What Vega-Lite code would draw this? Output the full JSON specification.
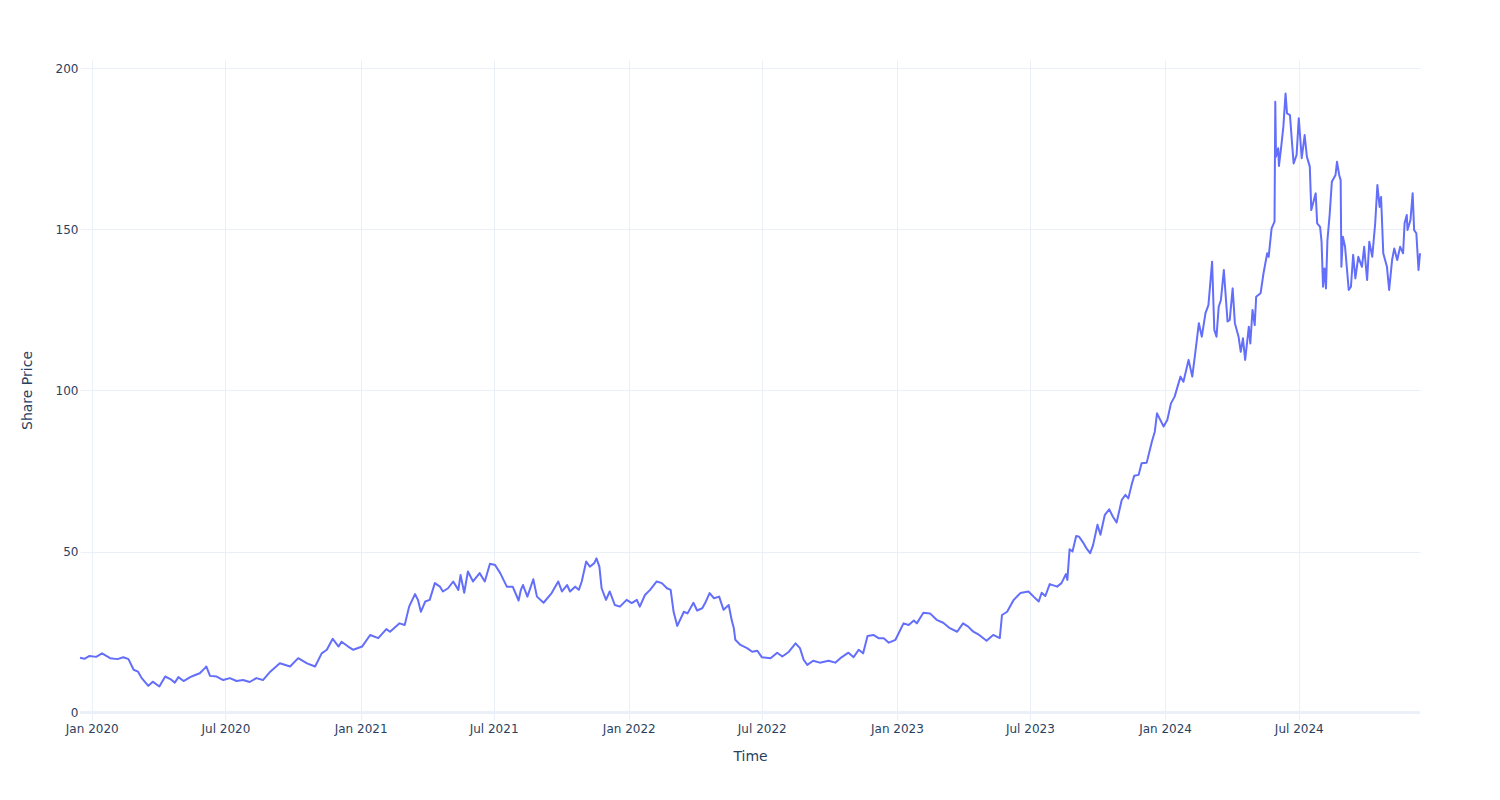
{
  "$schema": "https://vega.github.io/schema/vega-lite/v6.json",
  "width": 1340,
  "height": 660,
  "autosize": {"type": "none"},
  "padding": {"left": 80, "top": 60, "right": 80, "bottom": 80},
  "background": "white",
  "config": {"view": {"stroke": null}, "font": "DejaVu Sans"},
  "data": {"values": [
    {"date": "2019-12-16", "price": 17.0},
    {"date": "2019-12-22", "price": 16.7},
    {"date": "2019-12-29", "price": 17.6},
    {"date": "2020-01-07", "price": 17.3},
    {"date": "2020-01-15", "price": 18.4},
    {"date": "2020-01-26", "price": 16.9},
    {"date": "2020-02-05", "price": 16.6},
    {"date": "2020-02-13", "price": 17.2},
    {"date": "2020-02-20", "price": 16.6},
    {"date": "2020-02-27", "price": 13.3},
    {"date": "2020-03-04", "price": 12.7},
    {"date": "2020-03-09", "price": 10.7},
    {"date": "2020-03-18", "price": 8.3},
    {"date": "2020-03-24", "price": 9.6},
    {"date": "2020-04-02", "price": 8.1},
    {"date": "2020-04-10", "price": 11.2},
    {"date": "2020-04-17", "price": 10.4},
    {"date": "2020-04-23", "price": 9.3},
    {"date": "2020-04-28", "price": 11.0},
    {"date": "2020-05-05", "price": 9.8},
    {"date": "2020-05-14", "price": 11.0},
    {"date": "2020-05-20", "price": 11.6},
    {"date": "2020-05-27", "price": 12.2},
    {"date": "2020-06-03", "price": 13.8},
    {"date": "2020-06-05", "price": 14.3},
    {"date": "2020-06-10", "price": 11.4},
    {"date": "2020-06-19", "price": 11.2},
    {"date": "2020-06-28", "price": 10.1},
    {"date": "2020-07-07", "price": 10.7},
    {"date": "2020-07-16", "price": 9.8},
    {"date": "2020-07-25", "price": 10.1},
    {"date": "2020-08-03", "price": 9.5},
    {"date": "2020-08-12", "price": 10.7},
    {"date": "2020-08-21", "price": 10.1},
    {"date": "2020-08-31", "price": 12.7},
    {"date": "2020-09-13", "price": 15.3},
    {"date": "2020-09-27", "price": 14.3},
    {"date": "2020-10-08", "price": 16.9},
    {"date": "2020-10-20", "price": 15.3},
    {"date": "2020-10-31", "price": 14.3},
    {"date": "2020-11-09", "price": 18.4},
    {"date": "2020-11-16", "price": 19.5},
    {"date": "2020-11-24", "price": 22.9},
    {"date": "2020-12-02", "price": 20.5},
    {"date": "2020-12-06", "price": 22.0},
    {"date": "2020-12-15", "price": 20.5},
    {"date": "2020-12-22", "price": 19.5},
    {"date": "2021-01-03", "price": 20.5},
    {"date": "2021-01-14", "price": 24.1},
    {"date": "2021-01-25", "price": 23.1},
    {"date": "2021-02-05", "price": 25.9},
    {"date": "2021-02-10", "price": 25.1},
    {"date": "2021-02-23", "price": 27.7},
    {"date": "2021-03-02", "price": 27.2},
    {"date": "2021-03-08", "price": 32.9},
    {"date": "2021-03-16", "price": 36.8},
    {"date": "2021-03-20", "price": 35.0},
    {"date": "2021-03-24", "price": 31.3},
    {"date": "2021-03-30", "price": 34.5},
    {"date": "2021-04-05", "price": 35.0},
    {"date": "2021-04-12", "price": 40.2},
    {"date": "2021-04-19", "price": 39.1},
    {"date": "2021-04-23", "price": 37.6},
    {"date": "2021-04-30", "price": 38.6},
    {"date": "2021-05-07", "price": 40.7},
    {"date": "2021-05-14", "price": 38.1},
    {"date": "2021-05-17", "price": 42.7},
    {"date": "2021-05-22", "price": 37.2},
    {"date": "2021-05-27", "price": 43.8},
    {"date": "2021-06-03", "price": 40.7},
    {"date": "2021-06-12", "price": 43.3},
    {"date": "2021-06-19", "price": 40.7},
    {"date": "2021-06-26", "price": 46.2},
    {"date": "2021-07-03", "price": 45.8},
    {"date": "2021-07-10", "price": 43.3},
    {"date": "2021-07-19", "price": 39.1},
    {"date": "2021-07-27", "price": 39.1},
    {"date": "2021-08-04", "price": 34.8},
    {"date": "2021-08-07", "price": 38.0},
    {"date": "2021-08-10", "price": 39.6},
    {"date": "2021-08-16", "price": 36.0},
    {"date": "2021-08-24", "price": 41.4},
    {"date": "2021-08-29", "price": 36.0},
    {"date": "2021-09-07", "price": 34.1},
    {"date": "2021-09-18", "price": 37.1},
    {"date": "2021-09-27", "price": 40.7},
    {"date": "2021-10-02", "price": 37.6},
    {"date": "2021-10-09", "price": 39.6},
    {"date": "2021-10-13", "price": 37.6},
    {"date": "2021-10-20", "price": 39.1},
    {"date": "2021-10-25", "price": 38.1},
    {"date": "2021-10-29", "price": 40.7},
    {"date": "2021-11-04", "price": 46.9},
    {"date": "2021-11-09", "price": 45.3},
    {"date": "2021-11-15", "price": 46.4},
    {"date": "2021-11-18", "price": 47.9},
    {"date": "2021-11-22", "price": 45.3},
    {"date": "2021-11-25", "price": 38.6},
    {"date": "2021-12-01", "price": 35.0},
    {"date": "2021-12-06", "price": 37.6},
    {"date": "2021-12-13", "price": 33.4},
    {"date": "2021-12-20", "price": 32.9},
    {"date": "2021-12-29", "price": 35.0},
    {"date": "2022-01-05", "price": 34.0},
    {"date": "2022-01-12", "price": 35.0},
    {"date": "2022-01-16", "price": 32.9},
    {"date": "2022-01-23", "price": 36.5},
    {"date": "2022-01-30", "price": 38.1},
    {"date": "2022-02-08", "price": 40.7},
    {"date": "2022-02-15", "price": 40.2},
    {"date": "2022-02-22", "price": 38.6},
    {"date": "2022-02-27", "price": 38.1},
    {"date": "2022-03-03", "price": 31.3},
    {"date": "2022-03-08", "price": 26.9},
    {"date": "2022-03-17", "price": 31.3},
    {"date": "2022-03-22", "price": 30.8},
    {"date": "2022-03-30", "price": 34.1},
    {"date": "2022-04-04", "price": 31.7},
    {"date": "2022-04-11", "price": 32.4},
    {"date": "2022-04-16", "price": 34.5},
    {"date": "2022-04-21", "price": 37.1},
    {"date": "2022-04-27", "price": 35.5},
    {"date": "2022-05-04", "price": 36.0},
    {"date": "2022-05-10", "price": 31.9},
    {"date": "2022-05-17", "price": 33.4},
    {"date": "2022-05-21", "price": 28.8},
    {"date": "2022-05-24", "price": 26.2},
    {"date": "2022-05-26", "price": 22.6},
    {"date": "2022-06-02", "price": 21.0},
    {"date": "2022-06-11", "price": 20.0},
    {"date": "2022-06-18", "price": 18.9},
    {"date": "2022-06-25", "price": 19.2},
    {"date": "2022-07-01", "price": 17.2},
    {"date": "2022-07-13", "price": 16.9},
    {"date": "2022-07-22", "price": 18.6},
    {"date": "2022-07-29", "price": 17.4},
    {"date": "2022-08-07", "price": 18.9},
    {"date": "2022-08-16", "price": 21.5},
    {"date": "2022-08-22", "price": 20.0},
    {"date": "2022-08-27", "price": 16.4},
    {"date": "2022-09-01", "price": 14.8},
    {"date": "2022-09-09", "price": 16.1},
    {"date": "2022-09-18", "price": 15.5},
    {"date": "2022-09-30", "price": 16.1},
    {"date": "2022-10-09", "price": 15.5},
    {"date": "2022-10-16", "price": 16.9},
    {"date": "2022-10-27", "price": 18.6},
    {"date": "2022-11-03", "price": 17.2},
    {"date": "2022-11-10", "price": 19.5},
    {"date": "2022-11-16", "price": 18.4},
    {"date": "2022-11-22", "price": 23.8},
    {"date": "2022-11-30", "price": 24.1},
    {"date": "2022-12-07", "price": 23.1},
    {"date": "2022-12-14", "price": 23.1},
    {"date": "2022-12-21", "price": 21.7},
    {"date": "2022-12-30", "price": 22.6},
    {"date": "2023-01-10", "price": 27.7},
    {"date": "2023-01-17", "price": 27.2},
    {"date": "2023-01-24", "price": 28.6},
    {"date": "2023-01-28", "price": 27.7},
    {"date": "2023-02-06", "price": 31.0},
    {"date": "2023-02-15", "price": 30.8},
    {"date": "2023-02-24", "price": 28.8},
    {"date": "2023-03-05", "price": 27.9},
    {"date": "2023-03-14", "price": 26.2},
    {"date": "2023-03-24", "price": 25.1},
    {"date": "2023-04-01", "price": 27.7},
    {"date": "2023-04-08", "price": 26.7},
    {"date": "2023-04-15", "price": 25.1},
    {"date": "2023-04-23", "price": 24.1},
    {"date": "2023-05-03", "price": 22.3},
    {"date": "2023-05-12", "price": 24.1},
    {"date": "2023-05-21", "price": 23.1},
    {"date": "2023-05-24", "price": 30.3},
    {"date": "2023-05-31", "price": 31.3},
    {"date": "2023-06-09", "price": 35.0},
    {"date": "2023-06-18", "price": 37.1},
    {"date": "2023-06-29", "price": 37.6},
    {"date": "2023-07-06", "price": 36.0},
    {"date": "2023-07-13", "price": 34.5},
    {"date": "2023-07-17", "price": 37.2},
    {"date": "2023-07-22", "price": 36.2},
    {"date": "2023-07-28", "price": 39.9},
    {"date": "2023-08-07", "price": 39.1},
    {"date": "2023-08-13", "price": 40.2},
    {"date": "2023-08-19", "price": 43.0},
    {"date": "2023-08-21", "price": 41.2},
    {"date": "2023-08-24", "price": 50.7},
    {"date": "2023-08-28", "price": 50.0},
    {"date": "2023-09-02", "price": 54.8},
    {"date": "2023-09-06", "price": 54.6},
    {"date": "2023-09-12", "price": 52.6},
    {"date": "2023-09-16", "price": 51.0},
    {"date": "2023-09-21", "price": 49.5},
    {"date": "2023-09-25", "price": 52.0},
    {"date": "2023-10-01", "price": 58.3},
    {"date": "2023-10-05", "price": 55.2},
    {"date": "2023-10-11", "price": 61.4},
    {"date": "2023-10-17", "price": 63.1},
    {"date": "2023-10-22", "price": 60.8},
    {"date": "2023-10-27", "price": 59.0},
    {"date": "2023-11-03", "price": 66.0},
    {"date": "2023-11-08", "price": 67.6},
    {"date": "2023-11-12", "price": 66.5},
    {"date": "2023-11-17", "price": 71.2},
    {"date": "2023-11-20", "price": 73.5},
    {"date": "2023-11-26", "price": 73.8},
    {"date": "2023-11-30", "price": 77.4},
    {"date": "2023-12-07", "price": 77.6},
    {"date": "2023-12-14", "price": 84.1},
    {"date": "2023-12-18", "price": 87.2},
    {"date": "2023-12-21", "price": 92.9},
    {"date": "2023-12-30", "price": 88.8},
    {"date": "2024-01-04", "price": 90.8},
    {"date": "2024-01-09", "price": 96.0},
    {"date": "2024-01-14", "price": 98.1},
    {"date": "2024-01-22", "price": 104.3},
    {"date": "2024-01-26", "price": 102.7},
    {"date": "2024-02-02", "price": 109.5},
    {"date": "2024-02-07", "price": 104.3},
    {"date": "2024-02-11", "price": 111.5},
    {"date": "2024-02-16", "price": 120.9},
    {"date": "2024-02-20", "price": 116.7},
    {"date": "2024-02-25", "price": 124.0},
    {"date": "2024-02-29", "price": 126.5},
    {"date": "2024-03-05", "price": 140.0},
    {"date": "2024-03-08", "price": 118.8},
    {"date": "2024-03-11", "price": 116.7},
    {"date": "2024-03-14", "price": 126.0},
    {"date": "2024-03-17", "price": 128.1},
    {"date": "2024-03-21", "price": 137.4},
    {"date": "2024-03-26", "price": 121.4},
    {"date": "2024-03-29", "price": 121.9},
    {"date": "2024-04-02", "price": 131.7},
    {"date": "2024-04-05", "price": 120.9},
    {"date": "2024-04-10", "price": 116.7},
    {"date": "2024-04-13", "price": 112.0},
    {"date": "2024-04-16", "price": 116.2},
    {"date": "2024-04-19", "price": 109.5},
    {"date": "2024-04-24", "price": 119.8},
    {"date": "2024-04-26", "price": 114.6},
    {"date": "2024-04-29", "price": 125.0},
    {"date": "2024-05-02", "price": 120.3},
    {"date": "2024-05-04", "price": 129.1},
    {"date": "2024-05-10", "price": 130.2},
    {"date": "2024-05-14", "price": 136.4},
    {"date": "2024-05-19", "price": 142.6},
    {"date": "2024-05-21", "price": 141.5},
    {"date": "2024-05-25", "price": 150.3},
    {"date": "2024-05-29", "price": 152.4},
    {"date": "2024-05-30", "price": 189.6},
    {"date": "2024-05-31", "price": 172.6},
    {"date": "2024-06-03", "price": 175.2},
    {"date": "2024-06-04", "price": 169.7},
    {"date": "2024-06-07", "price": 175.5},
    {"date": "2024-06-10", "price": 181.9},
    {"date": "2024-06-13", "price": 192.2},
    {"date": "2024-06-15", "price": 186.0},
    {"date": "2024-06-19", "price": 185.5},
    {"date": "2024-06-22", "price": 176.2},
    {"date": "2024-06-24", "price": 170.5},
    {"date": "2024-06-28", "price": 173.1},
    {"date": "2024-07-01", "price": 184.5},
    {"date": "2024-07-05", "price": 172.1},
    {"date": "2024-07-09", "price": 179.3},
    {"date": "2024-07-12", "price": 172.6},
    {"date": "2024-07-16", "price": 169.5},
    {"date": "2024-07-18", "price": 156.0},
    {"date": "2024-07-21", "price": 158.6},
    {"date": "2024-07-24", "price": 161.2},
    {"date": "2024-07-26", "price": 151.9},
    {"date": "2024-07-30", "price": 150.8},
    {"date": "2024-08-01", "price": 146.2},
    {"date": "2024-08-03", "price": 132.2},
    {"date": "2024-08-05", "price": 137.9},
    {"date": "2024-08-07", "price": 131.7},
    {"date": "2024-08-09", "price": 146.7},
    {"date": "2024-08-12", "price": 154.5},
    {"date": "2024-08-15", "price": 164.8},
    {"date": "2024-08-20", "price": 166.9},
    {"date": "2024-08-22", "price": 171.0},
    {"date": "2024-08-25", "price": 166.9},
    {"date": "2024-08-27", "price": 165.3},
    {"date": "2024-08-28", "price": 138.4},
    {"date": "2024-08-30", "price": 147.7},
    {"date": "2024-09-02", "price": 144.6},
    {"date": "2024-09-07", "price": 131.2},
    {"date": "2024-09-10", "price": 132.2},
    {"date": "2024-09-13", "price": 142.1},
    {"date": "2024-09-16", "price": 134.8},
    {"date": "2024-09-20", "price": 141.5},
    {"date": "2024-09-25", "price": 138.4},
    {"date": "2024-09-28", "price": 144.6},
    {"date": "2024-10-02", "price": 134.3},
    {"date": "2024-10-05", "price": 146.2},
    {"date": "2024-10-09", "price": 141.5},
    {"date": "2024-10-13", "price": 151.9},
    {"date": "2024-10-16", "price": 163.8},
    {"date": "2024-10-19", "price": 157.0},
    {"date": "2024-10-21", "price": 160.1},
    {"date": "2024-10-24", "price": 142.6},
    {"date": "2024-10-29", "price": 138.4},
    {"date": "2024-11-01", "price": 131.2},
    {"date": "2024-11-05", "price": 140.5},
    {"date": "2024-11-08", "price": 144.1},
    {"date": "2024-11-12", "price": 140.5},
    {"date": "2024-11-16", "price": 144.6},
    {"date": "2024-11-20", "price": 142.6},
    {"date": "2024-11-22", "price": 151.9},
    {"date": "2024-11-25", "price": 154.5},
    {"date": "2024-11-26", "price": 149.8},
    {"date": "2024-11-30", "price": 152.9},
    {"date": "2024-12-03", "price": 161.2},
    {"date": "2024-12-05", "price": 149.8},
    {"date": "2024-12-08", "price": 148.8},
    {"date": "2024-12-11", "price": 137.4},
    {"date": "2024-12-13", "price": 142.6}
  ]},
  "layer": [
    {
      "mark": {"type": "rule", "stroke": "#EBF0F8", "strokeWidth": 2},
      "encoding": {"y": {"datum": 0, "type": "quantitative"}}
    },
    {
      "mark": {"type": "line", "color": "#636efa", "strokeWidth": 2, "strokeJoin": "round"},
      "encoding": {
        "x": {
          "field": "date",
          "type": "temporal",
          "scale": {"type": "utc", "domain": [{"year": 2019, "month": 12, "date": 16, "utc": true}, {"year": 2024, "month": 12, "date": 13, "utc": true}], "nice": false},
          "axis": {
            "values": [
              {"year": 2020, "month": 1, "date": 1, "utc": true},
              {"year": 2020, "month": 7, "date": 1, "utc": true},
              {"year": 2021, "month": 1, "date": 1, "utc": true},
              {"year": 2021, "month": 7, "date": 1, "utc": true},
              {"year": 2022, "month": 1, "date": 1, "utc": true},
              {"year": 2022, "month": 7, "date": 1, "utc": true},
              {"year": 2023, "month": 1, "date": 1, "utc": true},
              {"year": 2023, "month": 7, "date": 1, "utc": true},
              {"year": 2024, "month": 1, "date": 1, "utc": true},
              {"year": 2024, "month": 7, "date": 1, "utc": true}
            ],
            "labelExpr": "utcFormat(datum.value, '%b %Y')",
            "title": "Time",
            "titleFontSize": 14,
            "titleFontWeight": "normal",
            "titleColor": "#2a3f5f",
            "titleX": 670,
            "titleY": 36,
            "titleAlign": "center",
            "titleBaseline": "middle",
            "labelFontSize": 12,
            "labelColor": "#2a3f5f",
            "labelPadding": 3,
            "labelFlush": false,
            "labelOverlap": false,
            "domain": false,
            "ticks": false,
            "grid": true,
            "gridColor": "#EBF0F8",
            "gridWidth": 1
          }
        },
        "y": {
          "field": "price",
          "type": "quantitative",
          "scale": {"domain": [-2.3, 202.6], "nice": false, "zero": false},
          "axis": {
            "values": [0, 50, 100, 150, 200],
            "title": "Share Price",
            "titleFontSize": 14,
            "titleFontWeight": "normal",
            "titleColor": "#2a3f5f",
            "titleAngle": 270,
            "titleX": -53,
            "titleY": 330,
            "titleAlign": "center",
            "titleBaseline": "middle",
            "labelFontSize": 12,
            "labelColor": "#2a3f5f",
            "labelPadding": 2,
            "labelFlush": false,
            "domain": false,
            "ticks": false,
            "grid": true,
            "gridColor": "#EBF0F8",
            "gridWidth": 1
          }
        }
      }
    }
  ]
}
